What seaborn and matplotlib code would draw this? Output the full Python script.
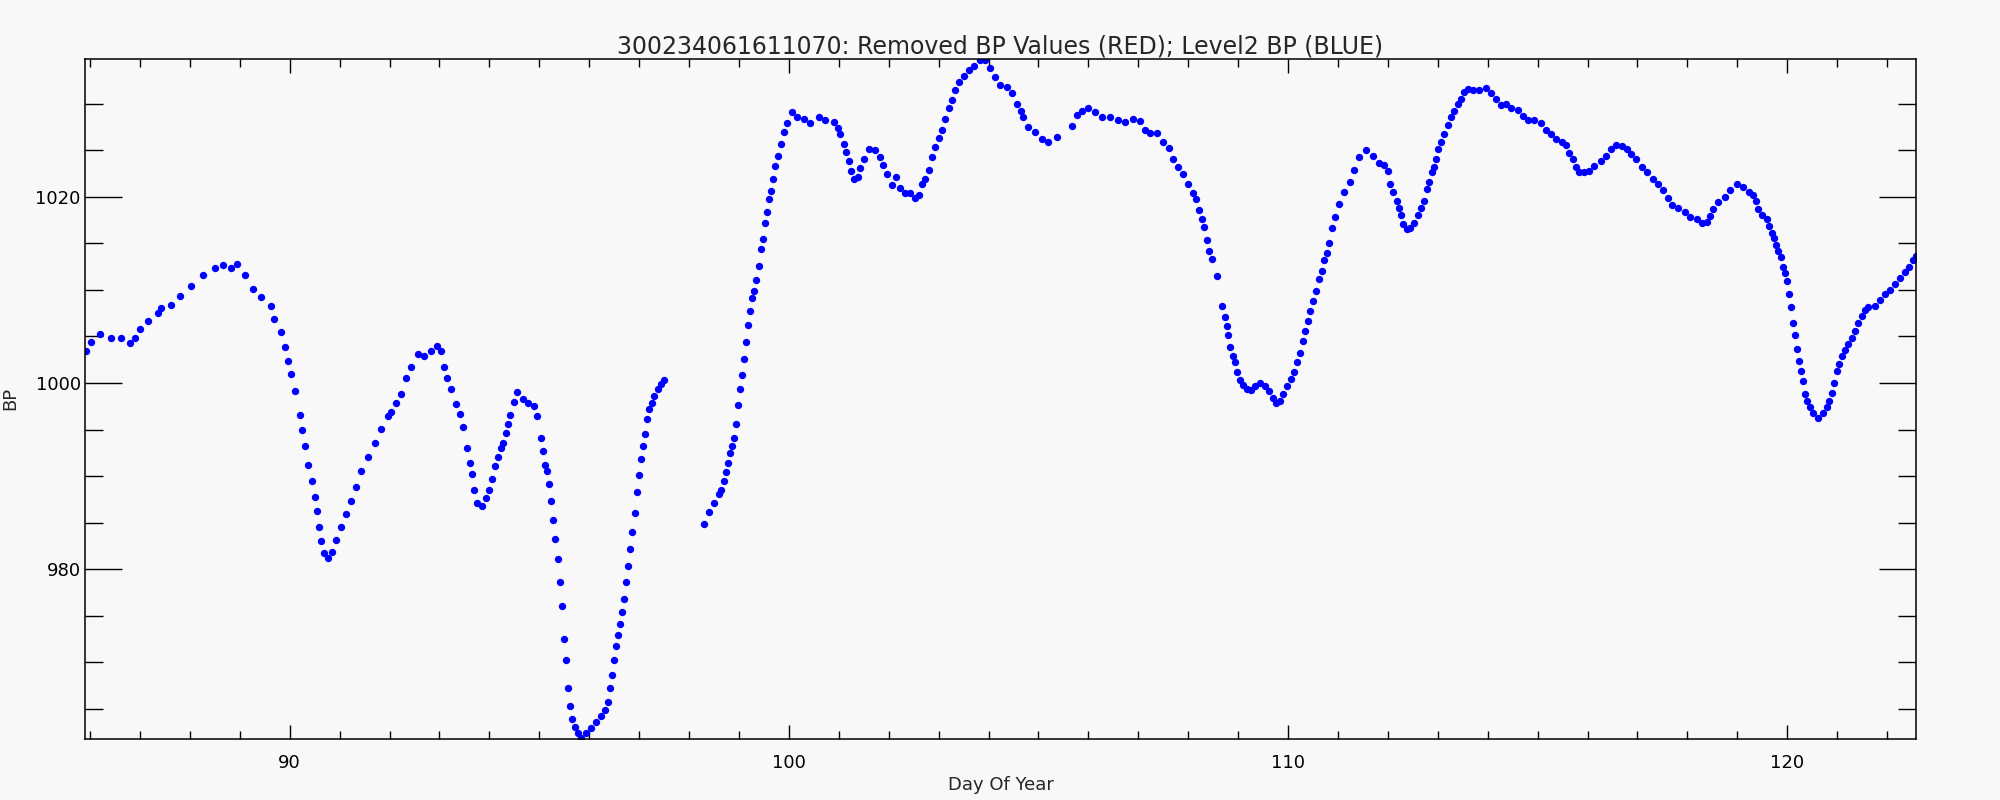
import pandas as pd
import matplotlib
matplotlib.use('Agg')
from matplotlib import pyplot as plt
from matplotlib.ticker import MultipleLocator
import seaborn as sns

# Level2 barometric pressure (day of year, hPa)
day = [
    85.92, 86.03, 86.2, 86.43, 86.63, 86.8, 86.9, 87.0, 87.17, 87.37,
    87.43, 87.63, 87.8, 88.03, 88.27, 88.5, 88.67, 88.83, 88.95, 89.1,
    89.27, 89.43, 89.62, 89.69, 89.82, 89.91, 89.97, 90.03, 90.1, 90.2,
    90.25, 90.3, 90.37, 90.45, 90.5, 90.54, 90.58, 90.62, 90.69, 90.77,
    90.85, 90.93, 91.03, 91.13, 91.23, 91.33, 91.43, 91.57, 91.7, 91.83,
    91.97, 92.03, 92.13, 92.23, 92.33, 92.43, 92.57, 92.7, 92.83, 92.95,
    93.03, 93.1, 93.15, 93.23, 93.33, 93.41, 93.47, 93.55, 93.61, 93.65,
    93.69, 93.75, 93.85, 93.93, 93.99, 94.05, 94.11, 94.17, 94.23, 94.28,
    94.33, 94.37, 94.42, 94.49, 94.55, 94.67, 94.77, 94.89, 94.95, 95.03,
    95.07, 95.11, 95.15, 95.19, 95.23, 95.27, 95.31, 95.37, 95.41, 95.45,
    95.49, 95.53, 95.57, 95.61, 95.65, 95.71, 95.77, 95.83, 95.93, 96.03,
    96.13, 96.23, 96.31, 96.37, 96.41, 96.45, 96.49, 96.53, 96.57, 96.61,
    96.65, 96.69, 96.73, 96.77, 96.81, 96.86, 96.91, 96.95, 96.99, 97.03,
    97.07, 97.11, 97.15, 97.2, 97.25, 97.3, 97.37, 97.43, 97.5,
    98.3, 98.4, 98.5, 98.6, 98.65, 98.7, 98.74, 98.78, 98.82, 98.86,
    98.9, 98.95, 98.99, 99.03, 99.07, 99.11, 99.15, 99.19, 99.23, 99.27,
    99.31, 99.35, 99.4, 99.44, 99.48, 99.52, 99.56, 99.6, 99.65, 99.69,
    99.73, 99.78, 99.84, 99.9, 99.97, 100.07, 100.17, 100.3, 100.43, 100.6,
    100.73, 100.9, 100.98, 101.03, 101.1, 101.15, 101.2, 101.25, 101.31, 101.38,
    101.43, 101.5, 101.6, 101.73, 101.82, 101.89, 101.97, 102.07, 102.15, 102.23,
    102.33, 102.43, 102.52, 102.6, 102.67, 102.73, 102.8, 102.87, 102.93, 103.0,
    103.07, 103.13, 103.2, 103.27, 103.33, 103.4, 103.5, 103.6, 103.71, 103.83,
    103.93, 104.03, 104.13, 104.23, 104.37, 104.47, 104.57, 104.65, 104.7, 104.8,
    104.93, 105.07, 105.2, 105.37,
    105.67, 105.77, 105.87, 106.0, 106.13, 106.27, 106.43, 106.6, 106.73, 106.9,
    107.03, 107.13, 107.23, 107.37, 107.5, 107.62, 107.7, 107.8, 107.9, 108.0,
    108.09, 108.15, 108.21, 108.27, 108.31, 108.37, 108.41, 108.47, 108.57, 108.68,
    108.73, 108.77, 108.8, 108.83, 108.89, 108.93, 108.98, 109.03, 109.1, 109.18,
    109.25, 109.33, 109.43, 109.53, 109.62, 109.69, 109.75, 109.83, 109.9, 109.97,
    110.05, 110.11, 110.18, 110.23, 110.29, 110.33, 110.4, 110.45, 110.5, 110.57,
    110.62, 110.68, 110.73, 110.78, 110.82, 110.89, 110.95, 111.03, 111.13, 111.25,
    111.33, 111.43, 111.57, 111.7, 111.82, 111.93, 112.0, 112.05, 112.11, 112.18,
    112.23, 112.27, 112.31, 112.38, 112.45, 112.53, 112.6, 112.67, 112.73, 112.79,
    112.83, 112.89, 112.93, 112.97, 113.01, 113.07, 113.13, 113.2, 113.27, 113.33,
    113.4, 113.47, 113.53, 113.6, 113.7, 113.83, 113.97, 114.07, 114.17, 114.27,
    114.37, 114.47, 114.6, 114.7, 114.8, 114.93, 115.07, 115.17, 115.27, 115.37,
    115.49, 115.57, 115.63, 115.71, 115.77, 115.83, 115.93, 116.03, 116.13, 116.27,
    116.37, 116.47, 116.57, 116.7, 116.8, 116.87, 116.97, 117.09, 117.19, 117.32,
    117.42, 117.52, 117.62, 117.69, 117.82, 117.95, 118.05, 118.19, 118.29, 118.4,
    118.45, 118.52, 118.62, 118.75, 118.85, 118.99, 119.12, 119.24, 119.32, 119.37,
    119.42, 119.49, 119.59, 119.64, 119.69, 119.73, 119.77, 119.82, 119.87, 119.91,
    119.95, 119.99, 120.03, 120.07, 120.11, 120.15, 120.19, 120.23, 120.28, 120.32,
    120.36, 120.4, 120.45, 120.52, 120.62, 120.71, 120.79, 120.84, 120.89, 120.93,
    120.99, 121.03, 121.09, 121.15, 121.22, 121.29, 121.35, 121.42, 121.49, 121.55,
    121.62, 121.75, 121.85, 121.95, 122.05, 122.15, 122.25, 122.35, 122.44, 122.52,
    122.57,
]
bp = [
    1003.4, 1004.4, 1005.3, 1004.8, 1004.8, 1004.3, 1004.8, 1005.8, 1006.6, 1007.5,
    1008.1, 1008.4, 1009.3, 1010.4, 1011.6, 1012.3, 1012.7, 1012.3, 1012.8, 1011.6,
    1010.1, 1009.2, 1008.3, 1006.9, 1005.5, 1003.9, 1002.4, 1001.0, 999.1, 996.6,
    995.0, 993.2, 991.2, 989.5, 987.8, 986.3, 984.5, 983.0, 981.7, 981.2,
    981.8, 983.1, 984.5, 985.9, 987.3, 988.8, 990.5, 992.0, 993.6, 995.1,
    996.5, 996.9, 997.9, 998.8, 1000.5, 1001.7, 1003.1, 1002.9, 1003.4, 1004.0,
    1003.4, 1001.7, 1000.5, 999.3, 997.7, 996.7, 995.3, 993.0, 991.4, 990.2,
    988.5, 987.1, 986.8, 987.7, 988.5, 989.7, 991.1, 992.1, 993.0, 993.6,
    994.6, 995.6, 996.6, 998.0, 999.0, 998.3, 997.8, 997.5, 996.5, 994.1,
    992.7, 991.2, 990.6, 989.1, 987.3, 985.3, 983.3, 981.1, 978.6, 976.1,
    972.5, 970.3, 967.2, 965.3, 963.9, 963.1, 962.4, 961.9, 962.4, 963.0,
    963.6, 964.3, 964.9, 965.7, 967.2, 968.6, 970.3, 971.8, 972.9, 974.1,
    975.4, 976.8, 978.6, 980.3, 982.2, 984.0, 986.0, 988.3, 990.1, 991.8,
    993.2, 994.5, 996.1, 997.2, 997.9, 998.6, 999.3, 999.9, 1000.3,
    984.9, 986.1, 987.1, 988.1, 988.5, 989.5, 990.4, 991.4, 992.5, 993.2,
    994.1, 995.6, 997.6, 999.3, 1000.9, 1002.6, 1004.4, 1006.2, 1007.7, 1009.1,
    1009.9, 1011.0, 1012.6, 1014.4, 1015.5, 1017.2, 1018.3, 1019.7, 1020.6, 1021.9,
    1023.3, 1024.4, 1025.6, 1026.9, 1027.9, 1029.1, 1028.5, 1028.3, 1027.9, 1028.6,
    1028.2, 1028.0, 1027.4, 1026.7, 1025.6, 1024.8, 1023.8, 1022.8, 1021.9, 1022.1,
    1023.1, 1024.0, 1025.1, 1025.0, 1024.3, 1023.4, 1022.4, 1021.2, 1022.1, 1020.9,
    1020.4, 1020.4, 1019.9, 1020.2, 1021.4, 1021.9, 1022.9, 1024.3, 1025.3, 1026.3,
    1027.2, 1028.3, 1029.5, 1030.4, 1031.5, 1032.3, 1033.0, 1033.6, 1034.0, 1034.7,
    1034.7, 1033.8, 1032.8, 1032.0, 1031.8, 1031.1, 1030.0, 1029.2, 1028.6, 1027.5,
    1026.9, 1026.2, 1025.9, 1026.4,
    1027.6, 1028.8, 1029.2, 1029.5, 1029.1, 1028.6, 1028.5, 1028.2, 1028.0, 1028.3,
    1028.1, 1027.2, 1026.8, 1026.8, 1025.9, 1025.2, 1024.0, 1023.2, 1022.4, 1021.4,
    1020.4, 1019.7, 1018.6, 1017.6, 1016.7, 1015.4, 1014.2, 1013.3, 1011.5, 1008.3,
    1007.1, 1006.1, 1005.1, 1003.9, 1002.9, 1002.2, 1001.2, 1000.3, 999.8, 999.4,
    999.2, 999.7, 1000.0, 999.7, 999.1, 998.4, 997.8, 998.1, 998.8, 999.7,
    1000.4, 1001.2, 1002.3, 1003.2, 1004.5, 1005.6, 1006.6, 1007.7, 1008.8, 1009.9,
    1011.2, 1012.0, 1013.2, 1014.0, 1015.0, 1016.6, 1017.8, 1019.2, 1020.5, 1021.6,
    1022.9, 1024.3, 1025.0, 1024.4, 1023.6, 1023.4, 1022.8, 1021.4, 1020.5, 1019.5,
    1018.8, 1018.0, 1017.1, 1016.5, 1016.6, 1017.2, 1018.0, 1018.8, 1019.5, 1020.8,
    1021.6, 1022.6, 1023.2, 1024.0, 1025.1, 1025.9, 1026.7, 1027.7, 1028.6, 1029.2,
    1030.0, 1030.5, 1031.2, 1031.6, 1031.4, 1031.4, 1031.7, 1031.1, 1030.5, 1029.8,
    1030.0, 1029.5, 1029.3, 1028.7, 1028.2, 1028.2, 1027.9, 1027.2, 1026.7, 1026.2,
    1025.9, 1025.5, 1024.7, 1024.0, 1023.2, 1022.7, 1022.6, 1022.8, 1023.3, 1023.8,
    1024.4, 1025.1, 1025.5, 1025.4, 1025.1, 1024.6, 1024.0, 1023.2, 1022.6, 1021.9,
    1021.4, 1020.7, 1019.9, 1019.1, 1018.8, 1018.4, 1017.8, 1017.6, 1017.2, 1017.3,
    1017.9, 1018.7, 1019.4, 1020.0, 1020.7, 1021.4, 1021.0, 1020.5, 1020.2, 1019.5,
    1018.7, 1018.0, 1017.6, 1016.8, 1016.1, 1015.6, 1014.8, 1014.2, 1013.5, 1012.5,
    1011.8, 1010.9, 1009.6, 1008.2, 1006.4, 1005.2, 1003.6, 1002.4, 1001.3, 1000.2,
    998.8, 998.1, 997.4, 996.8, 996.2, 996.8, 997.4, 998.1, 998.9, 1000.0,
    1001.3, 1002.0, 1002.9, 1003.5, 1004.2, 1004.8, 1005.6, 1006.4, 1007.2, 1007.8,
    1008.2, 1008.3, 1008.9, 1009.5, 1010.0, 1010.6, 1011.3, 1011.9, 1012.5, 1013.2,
    1013.6,
]

title = '300234061611070: Removed BP Values (RED); Level2 BP (BLUE)'

df = pd.DataFrame({'day': day, 'bp': bp})

sns.set_style('ticks')
plt.rcParams['font.family'] = ['DejaVu Sans']
bg = '#f8f8f8'

fig = plt.figure(figsize=(20, 8), dpi=100, facecolor=bg)
ax = fig.add_axes([0.0425, 0.0765, 0.9155, 0.85])
ax.set_facecolor(bg)

sns.scatterplot(data=df, x='day', y='bp', color='#0000ff', s=28,
                linewidth=0, ax=ax)

ax.set_xlim(85.9, 122.58)
ax.set_ylim(961.8, 1034.8)

ax.xaxis.set_major_locator(MultipleLocator(10))
ax.xaxis.set_minor_locator(MultipleLocator(1))
ax.yaxis.set_major_locator(MultipleLocator(20))
ax.yaxis.set_minor_locator(MultipleLocator(5))

ax.tick_params(axis='x', which='both', direction='in', top=True, bottom=True,
               colors='black', labelsize=13, pad=11)
ax.tick_params(axis='x', which='major', length=10, width=1.0)
ax.tick_params(axis='x', which='minor', length=5.5, width=1.0)
ax.tick_params(axis='y', which='both', direction='in', left=True, right=True,
               colors='black', labelsize=13, pad=3)
ax.tick_params(axis='y', which='major', length=26.5, width=1.0)
ax.tick_params(axis='y', which='minor', length=13, width=1.0)

for s in ax.spines.values():
    s.set_color('black')
    s.set_linewidth(1.1)

ax.set_title(title, fontsize=17, pad=4)
ax.set_xlabel('Day Of Year', fontsize=13, labelpad=3)
ax.set_ylabel('BP', fontsize=13)
ax.yaxis.set_label_coords(-0.036, 0.5)

plt.savefig('out.png', dpi=100, facecolor=bg)
